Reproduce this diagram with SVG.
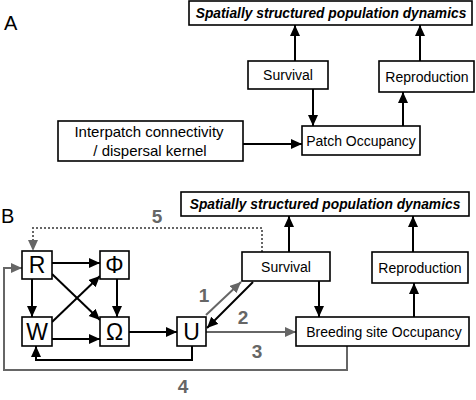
<svg xmlns="http://www.w3.org/2000/svg" width="476" height="400" viewBox="0 0 476 400">
<defs>
<marker id="ab" markerUnits="userSpaceOnUse" markerWidth="12" markerHeight="11" refX="11" refY="5" orient="auto"><path d="M0,0 L11,5 L0,10 z" fill="#000"/></marker>
<marker id="ag" markerUnits="userSpaceOnUse" markerWidth="12" markerHeight="11" refX="11" refY="5" orient="auto"><path d="M0,0 L11,5 L0,10 z" fill="#666"/></marker>
</defs>
<style>
.box{fill:#fff;stroke:#000;stroke-width:1.6}
.t{font-family:"Liberation Sans",Arial,sans-serif;font-size:14px;text-anchor:middle;fill:#000}
.big{font-family:"Liberation Sans",Arial,sans-serif;font-size:23px;text-anchor:middle;fill:#000}
.hd{font-family:"Liberation Sans",Arial,sans-serif;font-size:13.8px;font-weight:bold;font-style:italic;text-anchor:middle}
.pl{font-family:"Liberation Sans",Arial,sans-serif;font-size:20px;fill:#000}
.num{font-family:"Liberation Sans",Arial,sans-serif;font-size:19px;font-weight:bold;fill:#666;text-anchor:middle}
.c{fill:none;stroke:#000;stroke-width:2;marker-end:url(#ab)}
.g{fill:none;stroke:#666;stroke-width:2;marker-end:url(#ag)}
.i{fill:none;stroke:#666;stroke-width:2;stroke-dasharray:2,2;marker-end:url(#ag)}
</style>
<text class="pl" x="4" y="30">A</text>
<text class="pl" x="1" y="223">B</text>
<g id="connectors">
<line class="c" x1="295" y1="61" x2="295" y2="25"/>
<line class="c" x1="420" y1="61" x2="420" y2="25"/>
<line class="c" x1="313" y1="89" x2="313" y2="126"/>
<line class="c" x1="403" y1="126" x2="403" y2="92"/>
<line class="c" x1="243" y1="144" x2="302" y2="144"/>
<line class="c" x1="289" y1="252" x2="289" y2="216"/>
<line class="c" x1="413" y1="252" x2="413" y2="216"/>
<line class="c" x1="319" y1="281" x2="319" y2="317"/>
<line class="c" x1="414" y1="317" x2="414" y2="283"/>
<polyline class="i" points="262,252 262,228 33,228 33,251"/>
<line class="c" x1="52" y1="263" x2="100" y2="263"/>
<line class="c" x1="32" y1="279" x2="32" y2="317"/>
<line class="c" x1="117" y1="279" x2="117" y2="317"/>
<line class="c" x1="52" y1="339" x2="100" y2="339"/>
<line class="c" x1="52" y1="274" x2="100" y2="320"/>
<line class="c" x1="52" y1="322" x2="100" y2="276"/>
<line class="c" x1="129" y1="332" x2="177" y2="332"/>
<polyline class="c" points="192,346 192,360 36,360 36,346"/>
<polyline class="g" points="347,346 347,370 4,370 4,268 22,268"/>
<line class="g" x1="206" y1="332" x2="296" y2="332"/>
<line class="g" x1="206" y1="315" x2="241" y2="282"/>
<line class="c" x1="253" y1="282" x2="207" y2="328"/>
</g>
<g id="a_top"><rect class="box" x="189" y="1" width="283" height="24"/><text class="hd" x="331" y="18">Spatially structured population dynamics</text></g>
<g id="a_survival"><rect class="box" x="248" y="61" width="80" height="28"/><text class="t" x="288" y="80">Survival</text></g>
<g id="a_reproduction"><rect class="box" x="379" y="61" width="95" height="31"/><text class="t" x="427" y="82">Reproduction</text></g>
<g id="a_patch"><rect class="box" x="302" y="126" width="118" height="29"/><text class="t" x="361" y="146">Patch Occupancy</text></g>
<g id="a_interpatch"><rect class="box" x="58" y="121" width="185" height="40"/><text class="t" style="font-size:15px" x="149" y="137">Interpatch connectivity</text><text class="t" style="font-size:15px" x="150" y="156">/ dispersal kernel</text></g>
<g id="b_top"><rect class="box" x="181" y="192" width="288" height="24"/><text class="hd" x="325" y="209">Spatially structured population dynamics</text></g>
<g id="b_survival"><rect class="box" x="242" y="252" width="88" height="29"/><text class="t" x="286" y="272">Survival</text></g>
<g id="b_reproduction"><rect class="box" x="372" y="252" width="96" height="31"/><text class="t" x="420" y="273">Reproduction</text></g>
<g id="b_breeding"><rect class="box" x="296" y="317" width="173" height="29"/><text class="t" x="384" y="337">Breeding site Occupancy</text></g>
<g id="R"><rect class="box" x="22" y="251" width="30" height="28"/><text class="big" x="37" y="273">R</text></g>
<g id="Phi"><rect class="box" x="100" y="251" width="29" height="28"/><text class="big" x="114.5" y="273">Φ</text></g>
<g id="W"><rect class="box" x="22" y="317" width="30" height="29"/><text class="big" x="37" y="340">W</text></g>
<g id="Omega"><rect class="box" x="100" y="317" width="29" height="29"/><text class="big" x="114.5" y="340">Ω</text></g>
<g id="U"><rect class="box" x="177" y="317" width="29" height="29"/><text class="big" x="191.5" y="340">U</text></g>
<g id="labels">
<text class="num" x="157" y="223">5</text>
<text class="num" x="204" y="302">1</text>
<text class="num" x="243" y="324">2</text>
<text class="num" x="257" y="358">3</text>
<text class="num" x="183" y="393">4</text>
</g>
</svg>
